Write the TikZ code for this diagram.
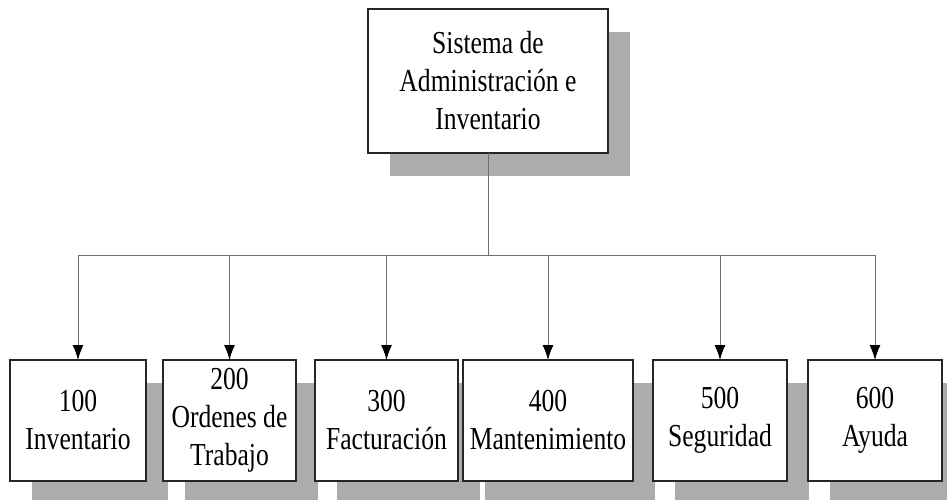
\documentclass[tikz,border=0pt]{standalone}
\usepackage{fontspec}
\setmainfont[FakeStretch=0.8]{Liberation Serif}
\usetikzlibrary{arrows.meta,calc}
\definecolor{shadowc}{RGB}{172,172,172}
\definecolor{linec}{RGB}{110,110,110}
\tikzset{
  box/.style={draw=black!85, line width=1.8pt, fill=white, align=center, inner sep=0pt, outer sep=0pt,
    font=\fontsize{32}{38}\selectfont, minimum height=121pt},
  conn/.style={draw=linec, line width=1pt},
  arr/.style={conn, -{Latex[length=15pt,width=11pt,fill=black,color=black]}},
}
\newcommand{\boxshadow}[1]{\fill[shadowc] ($(#1.north west)+(22,23)$) rectangle ($(#1.south east)+(22,23)$);}
\begin{document}
\begin{tikzpicture}[x=1pt,y=-1pt]
\useasboundingbox (0,0) rectangle (947,500);
\clip (0,0) rectangle (947,500);
\fill[white] (0,0) rectangle (947,500);
\path
  (488,81) node[box, minimum width=240pt, minimum height=144pt, opacity=0] (top) {}
  (78,420.5) node[box, minimum width=136pt, opacity=0] (b1) {}
  (229.5,420.5) node[box, minimum width=133pt, opacity=0] (b2) {}
  (386.5,420.5) node[box, minimum width=143pt, opacity=0] (b3) {}
  (548,420.5) node[box, minimum width=170pt, opacity=0] (b4) {}
  (720,420.5) node[box, minimum width=134pt, opacity=0] (b5) {}
  (875,420.5) node[box, minimum width=134pt, opacity=0] (b6) {};
\boxshadow{top}
\boxshadow{b1}\boxshadow{b2}\boxshadow{b3}\boxshadow{b4}\boxshadow{b5}\boxshadow{b6}
\node[box, minimum width=240pt, minimum height=144pt] (topbox) at (top) {Sistema de\\Administración e\\Inventario};
\node[box, minimum width=136pt] (n1) at (b1) {100\\Inventario};
\node[box, minimum width=133pt] (n2) at (b2) {200\\Ordenes de\\Trabajo};
\node[box, minimum width=143pt] (n3) at (b3) {300\\Facturación};
\node[box, minimum width=170pt] (n4) at (b4) {400\\Mantenimiento};
\node[box, minimum width=134pt] (n5) at (b5) {500\\Seguridad};
\node[box, minimum width=134pt] (n6) at (b6) {600\\Ayuda};
\coordinate (j) at (488,255);
\draw[conn] (topbox.south) -- (j);
\foreach \n in {n1,n2,n3,n4,n5,n6}{\draw[arr] (j) -| (\n.north);}
\end{tikzpicture}
\end{document}
